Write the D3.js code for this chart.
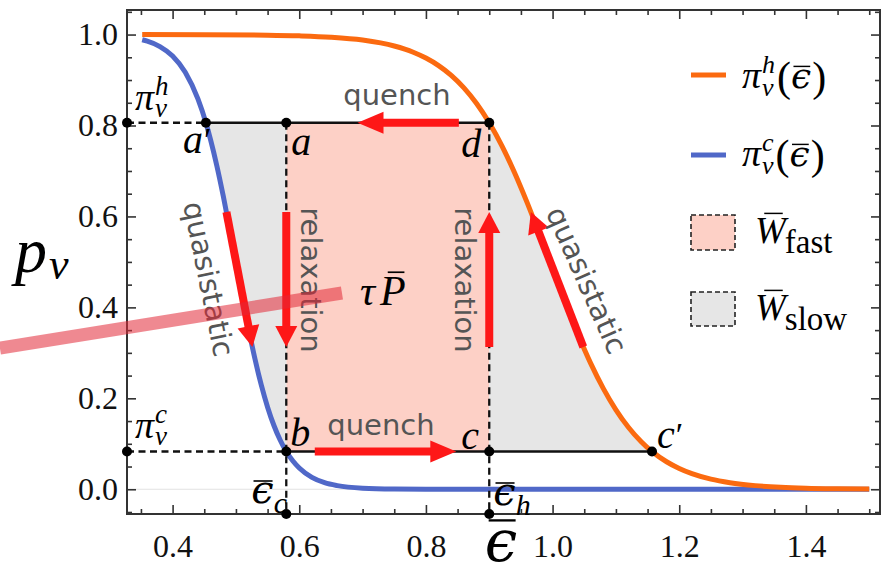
<!DOCTYPE html>
<html>
<head>
<meta charset="utf-8">
<script src="https://cdn.jsdelivr.net/npm/d3@7"></script>
<style>
  body { margin: 0; background: #fff; }
  svg { display: block; }
</style>
</head>
<body>
<svg id="chart" width="888" height="576"></svg>
<script>
// ---- data -------------------------------------------------------------
// cold-bath occupation curve  pi_v^c(eps)
const epsCold = [0.352,0.36,0.38,0.40,0.42,0.44,0.4526,0.46,0.47,0.48,0.49,0.50,0.51,0.52,0.53,0.54,0.55,0.56,0.57,0.5795,0.59,0.60,0.62,0.64,0.66,0.70,0.75,0.80,0.90,1.00,1.10,1.20,1.30,1.40,1.50];
const piCold  = [0.9885,0.9854,0.9736,0.9528,0.9171,0.8583,0.806,0.7683,0.7105,0.6447,0.5732,0.4985,0.4239,0.3525,0.287,0.2295,0.1806,0.1402,0.1077,0.083,0.062,0.0466,0.0261,0.0144,0.008,0.0024,0.0005,0.0001,0,0,0,0,0,0,0];
// hot-bath occupation curve  pi_v^h(eps)
const epsHot = [0.352,0.45,0.55,0.60,0.65,0.70,0.75,0.78,0.80,0.82,0.84,0.86,0.88,0.90,0.92,0.94,0.96,0.98,1.00,1.02,1.04,1.06,1.08,1.10,1.12,1.14,1.157,1.18,1.20,1.22,1.25,1.28,1.32,1.36,1.40,1.45,1.50];
const piHot  = [1.0,0.9997,0.9987,0.9972,0.9942,0.9879,0.9748,0.9612,0.9484,0.9318,0.9103,0.8828,0.8484,0.806,0.7553,0.6961,0.6297,0.5582,0.484,0.4105,0.341,0.2775,0.222,0.1748,0.1359,0.1046,0.083,0.0605,0.0457,0.0343,0.0222,0.0144,0.008,0.0044,0.0024,0.0012,0.0006];

// cycle corners
const cycleEps = { c: 0.5795, h: 0.9, aPrime: 0.4526, cPrime: 1.157 };
const cyclePi  = { h: 0.806, c: 0.083 };

// ticks
const xTickValues = [0.4, 0.6, 0.8, 1.0, 1.2, 1.4];
const yTickValues = [0.0, 0.2, 0.4, 0.6, 0.8, 1.0];

// process arrows: [eps, p] tail -> tip
const arrowTails = [[0.852, 0.806], [0.6245, 0.083], [0.5795, 0.61], [0.9, 0.313], [0.485, 0.61], [1.0485, 0.313]];
const arrowTips  = [[0.692, 0.806], [0.848, 0.083], [0.5795, 0.313], [0.9, 0.61], [0.526, 0.313], [0.9657, 0.61]];

// annotation stroke pointing at the power label
const pointerEnds = [[0.1273, 0.3107], [0.6674, 0.4316]];

// ---- setup ------------------------------------------------------------
const SERIF = "'Liberation Serif','DejaVu Serif',serif";
const GREEKSERIF = "'DejaVu Serif',serif";
const SANS = "'DejaVu Sans',sans-serif";
const ORANGE = "#fb6a10", BLUE = "#5068c8", RED = "#fe1717";
const PINK = "#fdd0c6", GREY = "#e6e6e6", LABEL = "#555";

const svg = d3.select("#chart");
const L = 127, R = 880, T = 10, B = 514;
const x = d3.scaleLinear().domain([0.328, 1.517]).range([L, R]);
const y = d3.scaleLinear().domain([-0.0544, 1.054]).range([B, T]);

const cold = epsCold.map((e, i) => ({ e, p: piCold[i] }));
const hot = epsHot.map((e, i) => ({ e, p: piHot[i] }));

// ---- filled work areas ---------------------------------------------------
svg.append("rect")
  .attr("x", x(cycleEps.c)).attr("y", y(cyclePi.h))
  .attr("width", x(cycleEps.h) - x(cycleEps.c))
  .attr("height", y(cyclePi.c) - y(cyclePi.h))
  .attr("fill", PINK);

const slowLeft = d3.area().curve(d3.curveMonotoneX)
  .x(d => x(d.e)).y0(d => y(d.p)).y1(y(cyclePi.h));
svg.append("path")
  .datum(cold.filter(d => d.e >= cycleEps.aPrime && d.e <= cycleEps.c))
  .attr("d", slowLeft).attr("fill", GREY);

const slowRight = d3.area().curve(d3.curveMonotoneX)
  .x(d => x(d.e)).y0(y(cyclePi.c)).y1(d => y(d.p));
svg.append("path")
  .datum(hot.filter(d => d.e >= cycleEps.h && d.e <= cycleEps.cPrime))
  .attr("d", slowRight).attr("fill", GREY);

// faint zero line
svg.append("line").attr("x1", L).attr("x2", R).attr("y1", y(0)).attr("y2", y(0))
  .attr("stroke", "#e2e2e2").attr("stroke-width", 1.2);

// ---- axes / frame -------------------------------------------------------
const minorX = d3.range(0.35, 1.5001, 0.05).filter(v => !xTickValues.some(t => Math.abs(t - v) < 1e-6));
const minorY = d3.range(-0.05, 1.0501, 0.05).filter(v => !yTickValues.some(t => Math.abs(t - v) < 1e-6));

function styleAxis(g) {
  g.select(".domain").remove();
  g.selectAll(".tick line").attr("stroke", "#333").attr("stroke-width", 1.6);
  g.selectAll("text").attr("font-family", SERIF).attr("font-size", 32).attr("fill", "#111");
}
svg.append("g").attr("transform", `translate(0,${B})`)
  .call(d3.axisBottom(x).tickValues(xTickValues).tickSize(-9).tickPadding(20).tickFormat(d3.format(".1f")))
  .call(styleAxis);
svg.append("g").attr("transform", `translate(0,${B})`)
  .call(d3.axisBottom(x).tickValues(minorX).tickSize(-5).tickFormat("")).call(styleAxis);
svg.append("g").attr("transform", `translate(0,${T})`)
  .call(d3.axisTop(x).tickValues(xTickValues).tickSize(-9).tickFormat("")).call(styleAxis);
svg.append("g").attr("transform", `translate(0,${T})`)
  .call(d3.axisTop(x).tickValues(minorX).tickSize(-5).tickFormat("")).call(styleAxis);
svg.append("g").attr("transform", `translate(${L},0)`)
  .call(d3.axisLeft(y).tickValues(yTickValues).tickSize(-9).tickPadding(9).tickFormat(d3.format(".1f")))
  .call(styleAxis);
svg.append("g").attr("transform", `translate(${L},0)`)
  .call(d3.axisLeft(y).tickValues(minorY).tickSize(-5).tickFormat("")).call(styleAxis);
svg.append("g").attr("transform", `translate(${R},0)`)
  .call(d3.axisRight(y).tickValues(yTickValues).tickSize(-9).tickFormat("")).call(styleAxis);
svg.append("g").attr("transform", `translate(${R},0)`)
  .call(d3.axisRight(y).tickValues(minorY).tickSize(-5).tickFormat("")).call(styleAxis);

svg.append("rect").attr("x", L).attr("y", T).attr("width", R - L).attr("height", B - T)
  .attr("fill", "none").attr("stroke", "#333").attr("stroke-width", 2);

// ---- curves -------------------------------------------------------------
const line = d3.line().curve(d3.curveMonotoneX).x(d => x(d.e)).y(d => y(d.p));
svg.append("path").datum(cold).attr("d", line)
  .attr("fill", "none").attr("stroke", BLUE).attr("stroke-width", 5);
svg.append("path").datum(hot).attr("d", line)
  .attr("fill", "none").attr("stroke", ORANGE).attr("stroke-width", 5);

// ---- cycle guide lines ---------------------------------------------------
const guides = svg.append("g").attr("stroke", "#111").attr("stroke-width", 2.3);
function seg(x1, y1, x2, y2, dashed) {
  guides.append("line").attr("x1", x1).attr("y1", y1).attr("x2", x2).attr("y2", y2)
    .attr("stroke-dasharray", dashed ? "7,4.5" : null);
}
seg(L, y(cyclePi.h), x(cycleEps.aPrime), y(cyclePi.h), true);
seg(x(cycleEps.aPrime), y(cyclePi.h), x(cycleEps.h), y(cyclePi.h), false);
seg(L, y(cyclePi.c), x(cycleEps.c), y(cyclePi.c), true);
seg(x(cycleEps.c), y(cyclePi.c), x(cycleEps.cPrime), y(cyclePi.c), false);
seg(x(cycleEps.c), y(cyclePi.h), x(cycleEps.c), B, true);
seg(x(cycleEps.h), y(cyclePi.h), x(cycleEps.h), B, true);

// ---- red process arrows --------------------------------------------------
const arrows = svg.append("g");
arrowTails.forEach((tail, i) => {
  const tip = arrowTips[i];
  const x0 = x(tail[0]), y0 = y(tail[1]), x1 = x(tip[0]), y1 = y(tip[1]);
  const len = Math.hypot(x1 - x0, y1 - y0);
  const ux = (x1 - x0) / len, uy = (y1 - y0) / len;
  const headL = i < 2 ? 26 : 21, headW = 22;
  const bx = x1 - ux * headL, by = y1 - uy * headL;
  arrows.append("line").attr("x1", x0).attr("y1", y0).attr("x2", bx + ux).attr("y2", by + uy)
    .attr("stroke", RED).attr("stroke-width", 8);
  const nx = -uy * headW / 2, ny = ux * headW / 2;
  arrows.append("path")
    .attr("d", `M${x1},${y1}L${bx + nx},${by + ny}L${bx - nx},${by - ny}Z`)
    .attr("fill", RED);
});

// ---- corner dots ---------------------------------------------------------
const dots = [
  [L, y(cyclePi.h)], [x(cycleEps.aPrime), y(cyclePi.h)], [x(cycleEps.c), y(cyclePi.h)], [x(cycleEps.h), y(cyclePi.h)],
  [L, y(cyclePi.c)], [x(cycleEps.c), y(cyclePi.c)], [x(cycleEps.h), y(cyclePi.c)], [x(cycleEps.cPrime), y(cyclePi.c)],
  [x(cycleEps.c), B], [x(cycleEps.h), B]
];
svg.append("g").selectAll("circle").data(dots).join("circle")
  .attr("cx", d => d[0]).attr("cy", d => d[1]).attr("r", 5).attr("fill", "#000");

// ---- math-style labels ---------------------------------------------------
function mathLabel(parent, px, py, parts, anchor) {
  const g = parent.append("g");
  let cx = 0, prevStart = 0;
  parts.forEach(p => {
    const start = p.stack ? prevStart : cx + (p.dx || 0);
    const dy = p.dy || 0;
    const t = g.append("text").attr("x", start).attr("y", dy)
      .attr("font-family", p.font || SERIF)
      .attr("font-style", p.it ? "italic" : "normal")
      .attr("font-size", p.size).attr("fill", p.fill || "#000").text(p.s);
    const w = t.node().getComputedTextLength();
    if (p.bar) {
      const by = dy - p.size * p.bar[2];
      g.append("line").attr("x1", start + w * p.bar[0]).attr("x2", start + w * p.bar[1])
        .attr("y1", by).attr("y2", by).attr("stroke", "#000").attr("stroke-width", Math.max(1.4, p.size * 0.04));
    }
    prevStart = start;
    cx = Math.max(cx, start + w);
  });
  const shift = anchor === "middle" ? cx / 2 : 0;
  g.attr("transform", `translate(${px - shift},${py})`);
  return g;
}

const labels = svg.append("g");
const ptSize = 40;
mathLabel(labels, x(cycleEps.aPrime) - 23, y(cyclePi.h) + 30, [{ s: "a", it: true, size: ptSize }, { s: "′", size: 34, dx: 1, dy: -2 }]);
mathLabel(labels, x(cycleEps.c) + 5, y(cyclePi.h) + 32, [{ s: "a", it: true, size: ptSize }]);
mathLabel(labels, x(cycleEps.h) - 28, y(cyclePi.h) + 34, [{ s: "d", it: true, size: ptSize }]);
mathLabel(labels, x(cycleEps.c) + 4, y(cyclePi.c) - 6, [{ s: "b", it: true, size: ptSize }]);
mathLabel(labels, x(cycleEps.h) - 28, y(cyclePi.c) - 3, [{ s: "c", it: true, size: ptSize }]);
mathLabel(labels, x(cycleEps.cPrime) + 5, y(cyclePi.c) - 4, [{ s: "c", it: true, size: ptSize }, { s: "′", size: 34, dx: 1, dy: -2 }]);

mathLabel(labels, L + 8, y(cyclePi.h) - 13, [{ s: "π", it: true, size: 38 }, { s: "h", it: true, size: 27, dy: -15, dx: 1 }, { s: "v", it: true, size: 27, dy: 7, stack: true }]);
mathLabel(labels, L + 8, y(cyclePi.c) - 14, [{ s: "π", it: true, size: 38 }, { s: "c", it: true, size: 27, dy: -15, dx: 1 }, { s: "v", it: true, size: 27, dy: 7, stack: true }]);

mathLabel(labels, x(cycleEps.c) - 35, B - 11, [{ s: "ϵ", it: true, size: 40, font: GREEKSERIF, bar: [0.1, 0.95, 0.55] }, { s: "c", it: true, size: 30, dy: 10 }]);
mathLabel(labels, x(cycleEps.h) + 4, B - 9, [{ s: "ϵ", it: true, size: 40, font: GREEKSERIF, bar: [0.1, 0.95, 0.55] }, { s: "h", it: true, size: 30, dy: 10 }]);

// power label
mathLabel(labels, 360, 305, [{ s: "τ", it: true, size: 42 }, { s: "P", it: true, size: 42, dx: 5, bar: [0.3, 0.95, 0.78] }]);

// axis titles
mathLabel(labels, 15, 272, [{ s: "p", it: true, size: 64 }, { s: "v", it: true, size: 44, dy: 7, dx: 2 }]);
mathLabel(labels, 501, 561, [{ s: "ϵ", it: true, size: 58, font: GREEKSERIF, bar: [0.12, 0.95, 0.7] }], "middle");

// process names
const procs = [
  { s: "quench", px: 397, py: 105, rot: 0 },
  { s: "quench", px: 381, py: 435, rot: 0 },
  { s: "relaxation", px: 311, py: 280, rot: 90 },
  { s: "relaxation", px: 465, py: 280, rot: 90 },
  { s: "quasistatic", px: 209, py: 279, rot: 78.5 },
  { s: "quasistatic", px: 587, py: 280, rot: 66 }
];
labels.selectAll("text.proc").data(procs).join("text").attr("class", "proc")
  .attr("transform", d => `translate(${d.px},${d.py}) rotate(${d.rot})`)
  .attr("dy", d => d.rot ? "0.36em" : 0)
  .attr("text-anchor", "middle")
  .attr("font-family", SANS).attr("font-size", 29).attr("fill", LABEL)
  .text(d => d.s);

// ---- legend --------------------------------------------------------------
const legend = svg.append("g");
legend.append("line").attr("x1", 691).attr("x2", 726).attr("y1", 75).attr("y2", 75)
  .attr("stroke", ORANGE).attr("stroke-width", 5);
legend.append("line").attr("x1", 691).attr("x2", 726).attr("y1", 155).attr("y2", 155)
  .attr("stroke", BLUE).attr("stroke-width", 5);
legend.append("rect").attr("x", 691).attr("y", 215).attr("width", 44).attr("height", 35)
  .attr("fill", PINK).attr("stroke", "#222").attr("stroke-width", 1.6).attr("stroke-dasharray", "5,3");
legend.append("rect").attr("x", 691).attr("y", 292).attr("width", 44).attr("height", 34)
  .attr("fill", GREY).attr("stroke", "#222").attr("stroke-width", 1.6).attr("stroke-dasharray", "5,3");

const piLegend = sup => [
  { s: "π", it: true, size: 38 },
  { s: sup, it: true, size: 26, dy: -15, dx: 1 },
  { s: "v", it: true, size: 26, dy: 8, stack: true },
  { s: "(", size: 42, dx: 2, dy: 3 },
  { s: "ϵ", it: true, size: 36, font: GREEKSERIF, bar: [0.12, 0.95, 0.6] },
  { s: ")", size: 42, dx: 1, dy: 3 }
];
mathLabel(legend, 742, 88, piLegend("h"));
mathLabel(legend, 742, 166, piLegend("c"));
mathLabel(legend, 755, 243, [{ s: "W", it: true, size: 37, bar: [0.3, 0.9, 0.8] }, { s: "fast", size: 33, dy: 10, dx: -1 }]);
mathLabel(legend, 755, 320, [{ s: "W", it: true, size: 37, bar: [0.3, 0.9, 0.8] }, { s: "slow", size: 33, dy: 10, dx: -1 }]);

// ---- translucent pointer stroke -----------------------------------------
svg.append("line")
  .attr("x1", x(pointerEnds[0][0])).attr("y1", y(pointerEnds[0][1]))
  .attr("x2", x(pointerEnds[1][0])).attr("y2", y(pointerEnds[1][1]))
  .attr("stroke", "rgb(225,40,55)").attr("stroke-opacity", 0.55).attr("stroke-width", 13);
</script>
</body>
</html>
